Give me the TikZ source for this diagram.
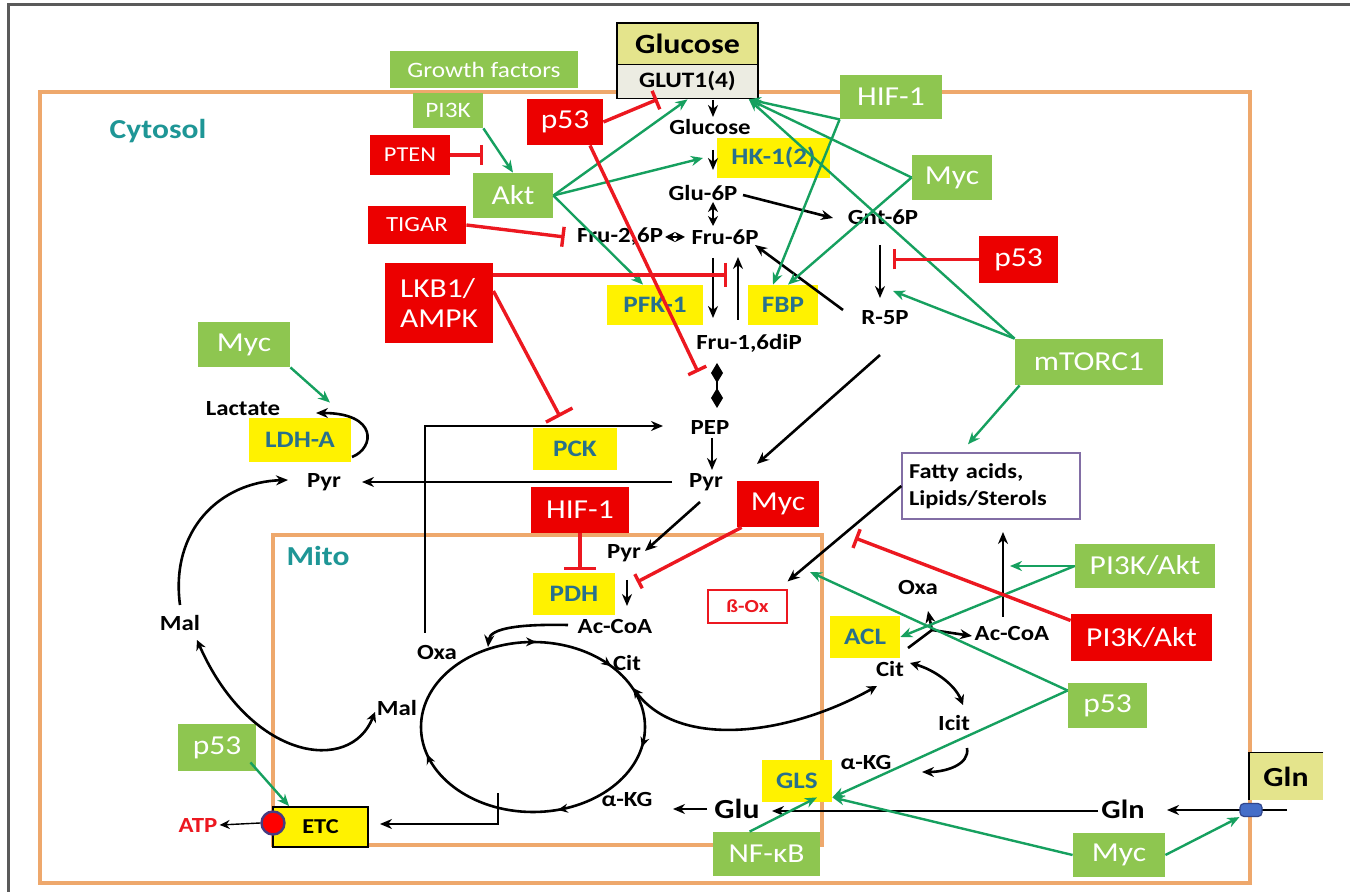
\documentclass[tikz,border=0pt]{standalone}
\usepackage{fontspec}
\setmainfont{Carlito}[FakeStretch=1.15]
\usetikzlibrary{arrows.meta,decorations.markings}

\definecolor{boxgreen}{RGB}{142,198,80}
\definecolor{boxred}{RGB}{236,0,0}
\definecolor{actgreen}{RGB}{22,160,95}
\definecolor{inhred}{RGB}{236,24,32}
\definecolor{membrane}{RGB}{238,168,108}
\definecolor{compartment}{RGB}{30,150,150}
\definecolor{enzyme}{RGB}{40,112,140}
\definecolor{outside}{RGB}{228,228,140}
\definecolor{carrier}{RGB}{236,236,226}
\definecolor{lipidframe}{RGB}{130,110,165}
\definecolor{frameline}{RGB}{90,90,90}
\definecolor{porterblue}{RGB}{70,110,200}
\definecolor{porteredge}{RGB}{50,70,140}
\definecolor{complexedge}{RGB}{70,60,130}

\newcommand{\txtsz}[1]{\fontsize{#1pt}{#1pt}\selectfont}

\begin{document}
\begin{tikzpicture}[x=0.5pt,y=-0.5pt,
  sz/.style 2 args={minimum width=#1pt,minimum height=#2pt},
  gbox/.style={fill=boxgreen,text=white,inner sep=0pt,font=\txtsz{13.7}},
  rbox/.style={fill=boxred,text=white,inner sep=0pt,font=\txtsz{13.7}},
  ybox/.style={fill=yellow,text=enzyme,inner sep=0pt,font=\bfseries\txtsz{11.8}},
  met/.style={inner sep=1pt,font=\bfseries\txtsz{10.8}},
  conv/.style={black,line width=1.3pt,-{Stealth[length=6pt,width=5pt]}},
  both/.style={black,line width=1.3pt,{Stealth[length=5pt,width=5pt]}-{Stealth[length=5pt,width=5pt]}},
  act/.style={actgreen,line width=1.2pt,-{Stealth[length=6pt,width=5pt]}},
  inh/.style={inhred,line width=1.7pt,-{Bar[width=10pt]}},
  cyclemark/.style={decoration={markings,
    mark=at position 0.116 with {\arrowreversed{Stealth[length=5pt,width=4.5pt]}},
    mark=at position 0.245 with {\arrowreversed{Stealth[length=5pt,width=4.5pt]}},
    mark=at position 0.545 with {\arrowreversed{Stealth[length=5pt,width=4.5pt]}},
    mark=at position 0.79 with {\arrowreversed{Stealth[length=5pt,width=4.5pt]}},
    mark=at position 0.967 with {\arrowreversed{Stealth[length=5pt,width=4.5pt]}}},
    postaction={decorate}},
]
\fill[white] (0,0) rectangle (1350,892);
\useasboundingbox (0,0) rectangle (1350,892);

% page frame and membranes
\draw[frameline,line width=1.5pt] (8,892) -- (8,5) -- (1350,5);
\draw[membrane,line width=2pt] (40,92) rectangle (1250,883);
\draw[membrane,line width=2.2pt] (273,535) rectangle (822,845);

\node[font=\bfseries\txtsz{13.7},text=compartment] (cyto) at (158,131) {Cytosol};
\node[font=\bfseries\txtsz{13.7},text=compartment] (mito) at (318,556) {Mito};

% external glucose and transporter
\node[draw,line width=0.9pt,fill=outside,sz={70.5}{21},inner sep=0pt,font=\bfseries\txtsz{13.9}] (glcout) at (687.5,44) {Glucose};
\node[draw,line width=0.9pt,fill=carrier,sz={70.5}{17},inner sep=0pt,font=\bfseries\txtsz{11}] (glut) at (687.5,81.5) {GLUT1(4)};

% external glutamine
\node[fill=outside,sz={37}{23.5},inner sep=0pt,font=\bfseries\txtsz{13.8}] (glnout) at (1286,776.5) {Gln};
\draw[line width=0.9pt] (glnout.north east) -- (glnout.north west) -- (glnout.south west);

% activating regulators
\node[gbox,sz={94}{18.5},font=\txtsz{11}] (gf) at (484,69.5) {Growth factors};
\node[gbox,sz={35}{17.5},font=\txtsz{11}] (pi3k) at (448,110.5) {PI3K};
\node[gbox,sz={40}{22.5}] (akt) at (513,195.5) {Akt};
\node[gbox,sz={51}{22}] (hifg) at (891,97) {HIF-1};
\node[gbox,sz={40}{22.5}] (mycg1) at (952,177.5) {Myc};
\node[gbox,sz={74}{23}] (mtor) at (1089,362) {mTORC1};
\node[gbox,sz={46}{22.5}] (mycg2) at (244,344.5) {Myc};
\node[gbox,sz={70}{22}] (pakg) at (1145,566) {PI3K/Akt};
\node[gbox,sz={39.5}{22.5}] (p53g1) at (1107.5,705.5) {p53};
\node[gbox,sz={46}{22}] (mycg3) at (1119,855) {Myc};
\node[gbox,sz={53.5}{22}] (nfkb) at (766.5,854) {NF-κB};
\node[gbox,sz={39}{23.5}] (p53g2) at (217,747.5) {p53};

% inhibiting regulators
\node[rbox,sz={38}{23}] (p53r1) at (565,122) {p53};
\node[rbox,sz={40}{20},font=\txtsz{10.6}] (pten) at (410,155) {PTEN};
\node[rbox,sz={49}{19},font=\txtsz{10.8}] (tigar) at (417,225) {TIGAR};
\node[rbox,sz={54}{40},align=left,font=\fontsize{13.7pt}{15pt}\selectfont] (lkb) at (439,303) {LKB1/\\AMPK};
\node[rbox,sz={39.5}{23.5}] (p53r2) at (1018.5,259.5) {p53};
\node[rbox,sz={49}{23}] (hifr) at (580,510) {HIF-1};
\node[rbox,sz={41}{23}] (mycr) at (778,504) {Myc};
\node[rbox,sz={70.5}{23.5}] (pakr) at (1141.5,637.5) {PI3K/Akt};

% enzymes
\node[ybox,sz={56.5}{20}] (hk) at (773.5,158) {HK-1(2)};
\node[ybox,sz={48}{20}] (pfk) at (655,305) {PFK-1};
\node[ybox,sz={35}{20}] (fbp) at (783,305) {FBP};
\node[ybox,sz={51}{22}] (ldh) at (300,440) {LDH-A};
\node[ybox,sz={42}{21}] (pck) at (575,449) {PCK};
\node[ybox,sz={41}{21}] (pdh) at (574,594) {PDH};
\node[ybox,sz={35}{21}] (acl) at (865,637) {ACL};
\node[ybox,sz={35}{21}] (gls) at (797,781) {GLS};

% metabolites
\node[met] (glc) at (710,127) {Glucose};
\node[met] (g6p) at (703,193) {Glu-6P};
\node[met] (f26p) at (620,237) {Fru-2,6P};
\node[met] (f6p) at (725,237) {Fru-6P};
\node[met] (gnt6p) at (883,217) {Gnt-6P};
\node[met] (r5p) at (885,318) {R-5P};
\node[met] (f16p) at (749,343) {Fru-1,6diP};
\node[met] (pep) at (710,427) {PEP};
\node[met] (pyrc) at (706,482) {Pyr};
\node[met] (pyrl) at (324,482) {Pyr};
\node[met] (lac) at (243,409) {Lactate};
\node[met] (pyrm) at (624,553) {Pyr};
\node[met] (acoam) at (615,626) {Ac-CoA};
\node[met] (oxam) at (437,652) {Oxa};
\node[met] (citm) at (627,663) {Cit};
\node[met] (malm) at (397,708) {Mal};
\node[met] (akgm) at (627,799) {α-KG};
\node[met,font=\bfseries\txtsz{13.8}] (glu) at (737,809) {Glu};
\node[met] (malc) at (180,623) {Mal};
\node[met,text=inhred] (atp) at (198,825) {ATP};
\node[met] (oxar) at (918,587) {Oxa};
\node[met] (acoar) at (1012,633) {Ac-CoA};
\node[met] (citr) at (890,669) {Cit};
\node[met] (icit) at (954,723) {Icit};
\node[met] (akgr) at (866,762) {α-KG};
\node[met,font=\bfseries\txtsz{13.2}] (gln) at (1123,809) {Gln};

\node[draw=lipidframe,line width=0.7pt,sz={89}{33},inner sep=3pt,text width=82pt,align=left,font=\bfseries\fontsize{10.6pt}{13.5pt}\selectfont] (lipid) at (991,486) {Fatty acids,\\Lipids/Sterols};
\node[draw=inhred,line width=0.6pt,sz={39.5}{16.5},inner sep=0pt,text=inhred,font=\bfseries\txtsz{9.2}] (betaox) at (747.5,606.5) {ß-Ox};
\node[draw,line width=0.9pt,fill=yellow,sz={47.5}{20},inner sep=0pt,font=\bfseries\txtsz{10.6}] (etc) at (320.5,827) {ETC};

% end points of the metabolic arrows
\coordinate (gl1) at (713,100);  \coordinate (gl2) at (713,117);
\coordinate (gl3) at (713,150);  \coordinate (gl4) at (713,170);
\coordinate (gl5) at (713,202);  \coordinate (gl6) at (713,226);
\coordinate (f2a) at (665,237);  \coordinate (f2b) at (685,237);
\coordinate (pp1) at (743,195);  \coordinate (pp2) at (833,218);
\coordinate (pf1) at (713,258);  \coordinate (pf2) at (713,318);
\coordinate (fb1) at (738,320);  \coordinate (fb2) at (738,257);
\coordinate (pp3) at (880,245);  \coordinate (pp4) at (880,298);
\coordinate (pp5) at (843,310);  \coordinate (pp6) at (755,245);
\coordinate (pp7) at (880,355);  \coordinate (pp8) at (757,464);
\coordinate (pk1) at (712,438);  \coordinate (pk2) at (712,470);
\coordinate (py1) at (672,482);  \coordinate (py2) at (362,482);
\coordinate (ox1) at (425,633);  \coordinate (ox2) at (663,426);
\coordinate (py3) at (700,502);  \coordinate (py4) at (645,551);
\coordinate (pd1) at (627,580);  \coordinate (pd2) at (627,606);
\coordinate (ac1) at (568,625);  \coordinate (ac2) at (488,647);
\coordinate (ct1) at (633,688);  \coordinate (ct2) at (877,686);
\coordinate (ml1) at (197,640);  \coordinate (ml2) at (375,712);
\coordinate (ml3) at (180,605);  \coordinate (ml4) at (288,480);
\coordinate (ld1) at (352,457);  \coordinate (ld2) at (316,413);
\coordinate (gu1) at (707,809);  \coordinate (gu2) at (673,809);
\coordinate (gn1) at (1098,811); \coordinate (gn2) at (772,811);
\coordinate (gn3) at (1287,810); \coordinate (gn4) at (1167,810);
\coordinate (et1) at (498,793);  \coordinate (et2) at (380,824);
\coordinate (cl1) at (908,648);  \coordinate (cl2) at (932,630);
\coordinate (cl3) at (928,611);  \coordinate (cl4) at (972,636);
\coordinate (fa1) at (1003,617); \coordinate (fa2) at (1003,532);
\coordinate (ic1) at (910,663);  \coordinate (ic2) at (963,705);
\coordinate (ic3) at (967,748);  \coordinate (ic4) at (922,772);

% targets of the regulatory arrows
\coordinate (glutE) at ([xshift=-5pt]glut.south east);
\coordinate (hkIn) at (703,158);
\coordinate (r5pIn) at (893,291);
\coordinate (acoaUp) at (1010,566);
\coordinate (mitoIn) at (810,572);
\coordinate (glsE) at ([yshift=2.5pt]gls.south east);
\coordinate (glsW) at ([xshift=10pt,yshift=2.5pt]gls.south);
\coordinate (p53src) at ([yshift=7.5pt]p53g1.west);
\coordinate (ptenT) at (483,155);
\coordinate (pfkBar) at (727,275);
\coordinate (pepBar) at (698,372);
\coordinate (pdhBar) at (637,582);
\coordinate (lipBar) at (855,538);

% TCA cycle
\draw[line width=1.3pt,cyclemark] (533,727) ellipse [x radius=56pt,y radius=42.5pt];

% metabolic conversions
\draw[conv] (gl1) -- (gl2);
\draw[conv] (gl3) -- (gl4);
\draw[both] (gl5) -- (gl6);
\draw[both] (f2a) -- (f2b);
\draw[conv] (pp1) -- (pp2);
\draw[conv] (pf1) -- (pf2);
\draw[conv] (fb1) -- (fb2);
\draw[conv] (pp3) -- (pp4);
\draw[conv] (pp5) -- (pp6);
\draw[conv] (pp7) -- (pp8);
\draw[line width=1pt] (717,364) -- (717,405);
\fill (717,363) -- (723,373) -- (717,383) -- (711,373) -- cycle;
\fill (717,388) -- (723,398) -- (717,408) -- (711,398) -- cycle;
\draw[conv] (pk1) -- (pk2);
\draw[conv] (py1) -- (py2);
\draw[conv] (ox1) |- (ox2);
\draw[conv] (py3) -- (py4);
\draw[conv] (pd1) -- (pd2);
\draw[conv] (ac1) .. controls (520,624) and (490,628) .. (ac2);
\draw[both] (ct1) .. controls (680,750) and (790,735) .. (ct2);
\draw[both] (ml1) .. controls (250,760) and (350,775) .. (ml2);
\draw[conv] (ml3) .. controls (170,530) and (220,482) .. (ml4);
\draw[conv] (ld1) .. controls (375,448) and (378,413) .. (ld2);
\draw[conv] (gu1) -- (gu2);
\draw[conv] (gn1) -- (gn2);
\draw[conv] (gn3) -- (gn4);
\draw[conv] (et1) |- (et2);
\draw[line width=1.3pt] (cl1) -- (cl2);
\draw[conv] (cl2) -- (cl3);
\draw[conv] (cl2) -- (cl4);
\draw[conv] (fa1) -- (fa2);
\draw[both] (ic1) .. controls (935,670) and (955,685) .. (ic2);
\draw[conv] (ic3) .. controls (970,765) and (945,772) .. (ic4);
\draw[conv] (lipid.west) -- ([yshift=4pt]betaox.north east);

% glutamine carrier, on top of the import arrow
\node[rounded corners=2pt,fill=porterblue,draw=porteredge,line width=0.6pt,sz={11}{6.5},inner sep=0pt] (porter) at (1251,810) {};

% activation
\draw[act] (pi3k.south east) -- (akt.north);
\draw[act] (akt.east) -- (glut.south);
\draw[act] (akt.east) -- (hkIn);
\draw[act] (akt.east) -- ([xshift=-6pt]pfk.north);
\draw[act] (hifg.south west) -- (glutE);
\draw[act] (mycg1.west) -- (glutE);
\draw[act] (mtor.north west) -- (glutE);
\draw[act] (hifg.south west) -- ([xshift=-5pt]fbp.north);
\draw[act] (mycg1.west) -- ([xshift=2.5pt]fbp.north);
\draw[act] (mtor.north west) -- (r5pIn);
\draw[act] ([xshift=2.5pt]mtor.south west) -- ([xshift=-11.5pt,yshift=4pt]lipid.north);
\draw[act] (mycg2.south east) -- ([xshift=15pt,yshift=7.5pt]ldh.north);
\draw[act] (pakg.west) -- (acoaUp);
\draw[act] (pakg.west) -- (acl.east);
\draw[act] (p53src) -- (mitoIn);
\draw[act] (p53src) -- (glsE);
\draw[act] (mycg3.west) -- (glsE);
\draw[act] (mycg3.east) -- (porter.south west);
\draw[act] ([xshift=18.5pt]nfkb.north west) -- (glsW);
\draw[act] ([xshift=-3pt,yshift=4.5pt]p53g2.south east) -- ([xshift=8.5pt]etc.north west);

% inhibition
\draw[inh] (p53r1.east) -- ([xshift=-15pt]glut.south);
\draw[inh] (pten.east) -- (ptenT);
\draw[inh] (tigar.east) -- ([xshift=-5pt]f26p.west);
\draw[inh,-{Bar[width=12pt]}] ([yshift=14pt]lkb.east) -- (pfkBar);
\draw[inh,-{Bar[width=15pt]}] ([yshift=6pt]lkb.east) -- ([xshift=-7.5pt,yshift=5.5pt]pck.north);
\draw[inh] ([xshift=12.5pt]p53r1.south) -- (pepBar);
\draw[inh] (p53r2.west) -- ([xshift=-43pt]p53r2.west);
\draw[inh,-{Bar[width=16pt]}] (hifr.south) -- ++(0,37);
\draw[inh,-{Bar[width=8pt]}] ([xshift=2.5pt]mycr.south west) -- (pdhBar);
\draw[inh] ([yshift=8.5pt]pakr.west) -- (lipBar);

% respiratory complex
\node[circle,fill=red,draw=complexedge,line width=1.2pt,minimum size=11.5pt,inner sep=0pt] (cplx) at (273,823) {};
\draw[conv,line width=0.7pt,-{Stealth[length=5pt,width=4.5pt]}] (cplx.west) -- (atp.east);
\end{tikzpicture}
\end{document}
